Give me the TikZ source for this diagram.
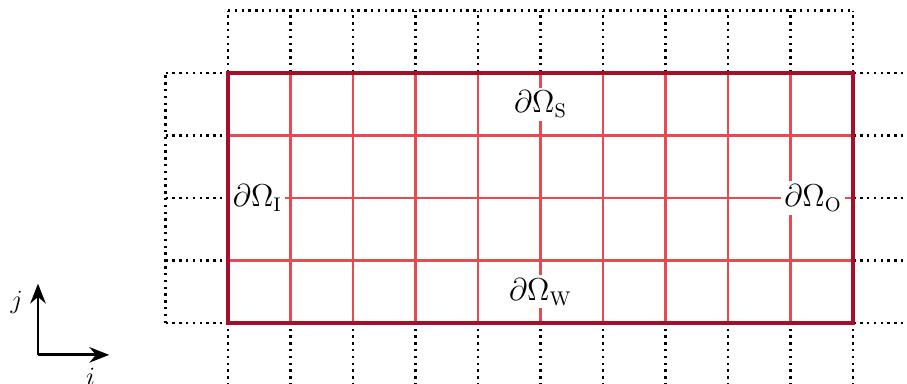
\documentclass[tikz,border=0pt]{standalone}
\usepackage{amsmath,amssymb}
\usetikzlibrary{arrows.meta,positioning}
\definecolor{bdred}{RGB}{168,14,40}
\definecolor{gridred}{RGB}{232,74,80}

\tikzset{
  ghost/.style={dotted, line width=1.1pt, black},
  inner/.style={gridred, line width=1.1pt},
  bound/.style={bdred, line width=1.9pt},
  blabel/.style={fill=white, inner sep=1.5pt, font=\fontsize{13.5}{16}\selectfont},
  axis/.style={-{Stealth[length=9pt,width=7pt]}, line width=1.3pt}
}

\begin{document}
\begin{tikzpicture}
\useasboundingbox (-3.648,-0.96) rectangle (10.864,5.168);
\begin{scope}
\clip (-3.648,-0.96) rectangle (10.864,5.168);
% Ghost cells (dotted)
\draw[ghost] (-1,0) grid (11,4);
\draw[ghost] (0,-1) grid (10,5);
\end{scope}

% Computational grid
\draw[inner] (0,0) grid (10,4);

% Boundary labels
\node[blabel] (lblS) at (5,3.5) {$\partial\Omega_{\mathrm{S}}$};
\node[blabel] (lblW) at (5,0.5) {$\partial\Omega_{\mathrm{W}}$};
\node[blabel] (lblI) at (0.47,2) {$\partial\Omega_{\mathrm{I}}$};
\node[blabel] (lblO) at (9.36,2) {$\partial\Omega_{\mathrm{O}}$};

% Domain boundary
\draw[bound] (0,0) rectangle (10,4);

% Index directions
\coordinate (orig) at (-3.04,-0.51);
\coordinate (ei) at (-1.90,-0.51);
\coordinate (ej) at (-3.04,0.63);
\draw[axis] (orig) -- (ei);
\draw[axis] (orig) -- (ej);
\node[font=\large] (lj) at (-3.38,0.33) {$j$};
\node[font=\large] (li) at (-2.2,-0.86) {$i$};
\end{tikzpicture}
\end{document}
